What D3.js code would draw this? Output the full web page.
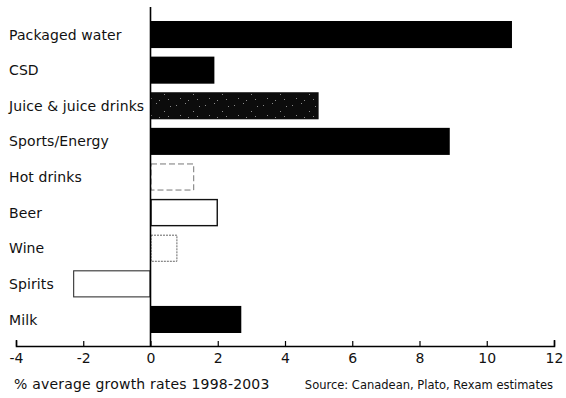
<!DOCTYPE html>
<html>
<head>
<meta charset="utf-8">
<script src="https://cdn.jsdelivr.net/npm/d3@7/dist/d3.min.js"></script>
<style>
  html, body { margin: 0; padding: 0; background: #fff; }
  svg { display: block; }
  text { font-family: "DejaVu Sans", sans-serif; fill: #111; }
</style>
</head>
<body>
<svg id="chart" width="566" height="398"></svg>
<script>
// Beverage categories, top to bottom
const categories = ["Packaged water", "CSD", "Juice & juice drinks", "Sports/Energy",
                    "Hot drinks", "Beer", "Wine", "Spirits", "Milk"];
// % average growth 1998-2003
const growth = [10.75, 1.9, 5.0, 8.9, 1.3, 2.0, 0.8, -2.3, 2.7];
// x axis ticks
const xTicks = [-4, -2, 0, 2, 4, 6, 8, 10, 12];

const axisTitle = "% average growth rates 1998-2003";
const sourceNote = "Source: Canadean, Plato, Rexam estimates";

// Per-category bar appearance
const barStyle = {
  "Packaged water":       { fill: "#000", stroke: "none" },
  "CSD":                  { fill: "#000", stroke: "none" },
  "Juice & juice drinks": { fill: "url(#grain)", stroke: "none" },
  "Sports/Energy":        { fill: "#000", stroke: "none" },
  "Hot drinks":           { fill: "#fff", stroke: "#777", dash: "6,3", width: 1 },
  "Beer":                 { fill: "#fff", stroke: "#111", width: 1.4 },
  "Wine":                 { fill: "#fff", stroke: "#666", dash: "2,1", width: 1 },
  "Spirits":              { fill: "#fff", stroke: "#333", width: 1.1 },
  "Milk":                 { fill: "#000", stroke: "none" }
};

const svg = d3.select("#chart");

// speckled dark fill for the juice bar
const defs = svg.append("defs");
const pat = defs.append("pattern").attr("id", "grain")
  .attr("patternUnits", "userSpaceOnUse").attr("width", 29).attr("height", 17);
pat.append("rect").attr("width", 29).attr("height", 17).attr("fill", "#0c0c0c");
[[2,3],[11,1],[19,9],[25,4],[6,13],[14,15],[23,14]].forEach(([cx, cy]) => {
  pat.append("rect").attr("x", cx).attr("y", cy).attr("width", 1).attr("height", 1)
    .attr("fill", "#8a8a8a");
});

const x = d3.scaleLinear().domain([-4, 12]).range([16, 554]);
const y = d3.scaleBand().domain(categories).range([21, 333]).paddingInner(0.24).paddingOuter(0);
const axisY = 346;

const inset = d => (barStyle[d.c].stroke === "none" ? 0 : 0.5);

// bars
svg.append("g").selectAll("rect")
  .data(categories.map((c, i) => ({ c, v: growth[i] })))
  .join("rect")
  .attr("x", d => x(Math.min(0, d.v)) + inset(d))
  .attr("y", d => y(d.c) + inset(d))
  .attr("width", d => Math.abs(x(d.v) - x(0)) - 2 * inset(d))
  .attr("height", d => y.bandwidth() - 2 * inset(d))
  .attr("fill", d => barStyle[d.c].fill)
  .attr("stroke", d => barStyle[d.c].stroke)
  .attr("stroke-width", d => barStyle[d.c].width || 0)
  .attr("stroke-dasharray", d => barStyle[d.c].dash || null);

// category labels
svg.append("g").selectAll("text")
  .data(categories)
  .join("text")
  .attr("x", 9)
  .attr("y", d => y(d) + y.bandwidth() / 2)
  .attr("dy", "0.36em")
  .attr("font-size", 14)
  .attr("letter-spacing", 0.1)
  .text(d => d);

// zero line
svg.append("line")
  .attr("x1", x(0)).attr("x2", x(0))
  .attr("y1", 7).attr("y2", axisY)
  .attr("stroke", "#000").attr("stroke-width", 1.6);

// x axis with upward ticks
const xAxis = d3.axisBottom(x).tickValues(xTicks).tickSize(-5).tickSizeOuter(-6)
  .tickPadding(14).tickFormat(d3.format("d"));
const gx = svg.append("g").attr("transform", `translate(0,${axisY})`).call(xAxis);
gx.select(".domain").attr("stroke", "#000").attr("stroke-width", 1.6);
gx.selectAll(".tick line").attr("stroke", "#000").attr("stroke-width", 1.2);
gx.selectAll(".tick text")
  .attr("font-family", "DejaVu Sans, sans-serif")
  .attr("font-size", 14).attr("fill", "#111").attr("dy", "0.2em")
  .text(d => d < 0 ? "-" + Math.abs(d) : d);

// axis title and source note
svg.append("text").attr("x", 14).attr("y", 389)
  .attr("font-size", 14).attr("letter-spacing", 0.2).text(axisTitle);
svg.append("text").attr("x", 553).attr("y", 389).attr("text-anchor", "end")
  .attr("font-size", 11.5).text(sourceNote);
</script>
</body>
</html>
